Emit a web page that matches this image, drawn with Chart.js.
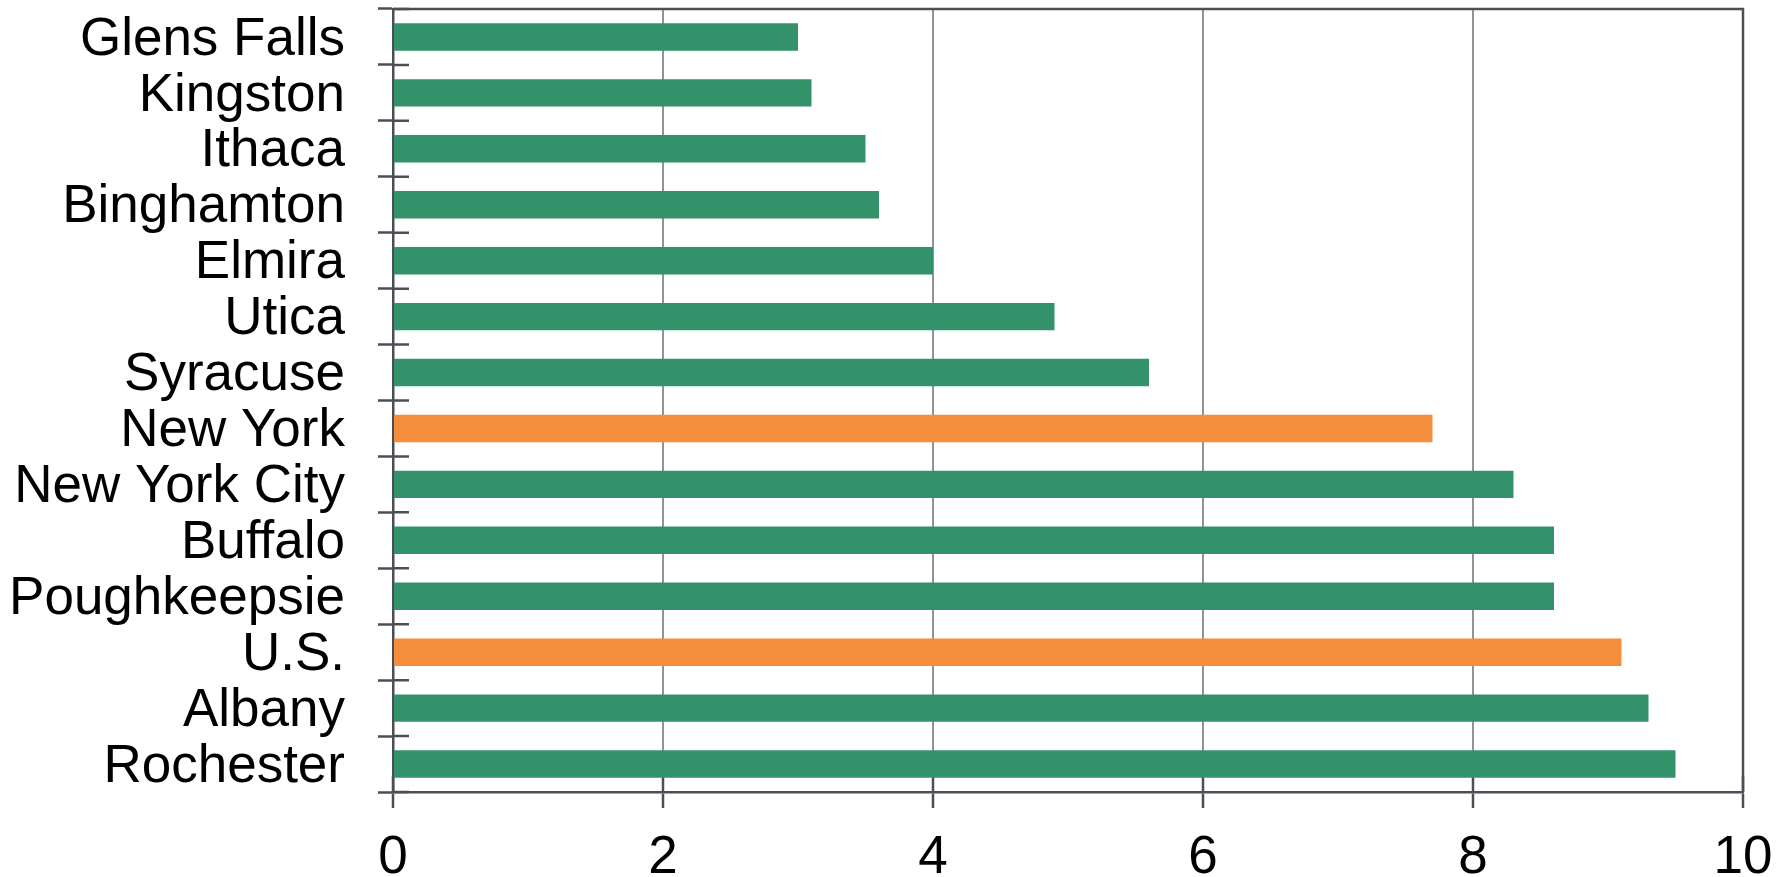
<!DOCTYPE html>
<html>
<head>
<meta charset="utf-8">
<script src="https://cdn.jsdelivr.net/npm/chart.js@4"></script>
<style>
  html, body { margin: 0; padding: 0; background: #fff; }
  #wrap { width: 1786px; height: 877px; position: relative; }
</style>
</head>
<body>
<div id="wrap"><canvas id="ratesChart"></canvas></div>
<script>
// city / area names, top to bottom
const areas = ['Glens Falls', 'Kingston', 'Ithaca', 'Binghamton', 'Elmira', 'Utica', 'Syracuse',
  'New York', 'New York City', 'Buffalo', 'Poughkeepsie', 'U.S.', 'Albany', 'Rochester'];
const values = [3.0, 3.1, 3.5, 3.6, 4.0, 4.9, 5.6, 7.7, 8.3, 8.6, 8.6, 9.1, 9.3, 9.5];
// state and national totals are shown in orange
const highlight = ['New York', 'U.S.'];
const xTicks = [0, 2, 4, 6, 8, 10];

const green = '#34926b';
const orange = '#f48d3c';
const axisDark = '#4b4f55';
const gridGrey = '#909498';

// short tick marks that poke into the plot, plus the top/right frame
const frameTicks = {
  id: 'frameTicks',
  beforeDatasetsDraw(chart) {
    const { ctx, chartArea, scales } = chart;
    ctx.save();
    ctx.strokeStyle = axisDark;
    ctx.lineWidth = 2.5;
    ctx.beginPath();
    xTicks.forEach(v => {
      const px = scales.x.getPixelForValue(v);
      ctx.moveTo(px, chartArea.bottom);
      ctx.lineTo(px, chartArea.bottom - 16);
    });
    for (let i = 0; i <= areas.length; i++) {
      const py = scales.y.getPixelForValue(i - 0.5);
      ctx.moveTo(chartArea.left, py);
      ctx.lineTo(chartArea.left + 16, py);
    }
    ctx.stroke();
    ctx.restore();
  },
  afterDraw(chart) {
    const { ctx, chartArea } = chart;
    ctx.save();
    ctx.strokeStyle = axisDark;
    ctx.lineWidth = 2.5;
    ctx.beginPath();
    ctx.moveTo(chartArea.left, chartArea.top);
    ctx.lineTo(chartArea.right, chartArea.top);
    ctx.lineTo(chartArea.right, chartArea.bottom);
    ctx.stroke();
    ctx.restore();
  }
};

const ctx = document.getElementById('ratesChart').getContext('2d');
const ratesChart = new Chart(ctx, {
  type: 'bar',
  data: {
    labels: areas,
    datasets: [{
      data: values,
      backgroundColor: areas.map(a => highlight.includes(a) ? orange : green),
      borderWidth: 0,
      barPercentage: 0.49,
      categoryPercentage: 1
    }]
  },
  options: {
    indexAxis: 'y',
    responsive: true,
    maintainAspectRatio: false,
    animation: false,
    layout: { padding: { top: 9, right: 43, left: 0, bottom: 0 } },
    plugins: {
      legend: { display: false },
      tooltip: { enabled: false }
    },
    scales: {
      x: {
        min: 0,
        max: 10,
        afterBuildTicks: (scale) => { scale.ticks = xTicks.map(v => ({ value: v })); },
        afterFit: (scale) => {
          scale.height = 85;
          scale.paddingLeft = 0;
          scale.paddingRight = 0;
        },
        grid: {
          color: gridGrey,
          lineWidth: 2,
          tickColor: axisDark,
          tickLength: 16,
          tickWidth: 2.5
        },
        border: { color: axisDark, width: 2.5 },
        ticks: {
          color: '#000',
          padding: 19,
          font: { family: 'Liberation Sans, Arial, sans-serif', size: 53 }
        }
      },
      y: {
        afterFit: (scale) => {
          scale.width = 393;
          scale.paddingTop = 0;
          scale.paddingBottom = 0;
        },
        grid: {
          offset: true,
          drawOnChartArea: false,
          tickColor: axisDark,
          tickLength: 15,
          tickWidth: 2.5
        },
        border: { color: axisDark, width: 2.5 },
        ticks: {
          color: '#000',
          padding: 33,
          labelOffset: 3,
          autoSkip: false,
          font: { family: 'Liberation Sans, Arial, sans-serif', size: 53 }
        }
      }
    }
  },
  plugins: [frameTicks]
});
</script>
</body>
</html>
